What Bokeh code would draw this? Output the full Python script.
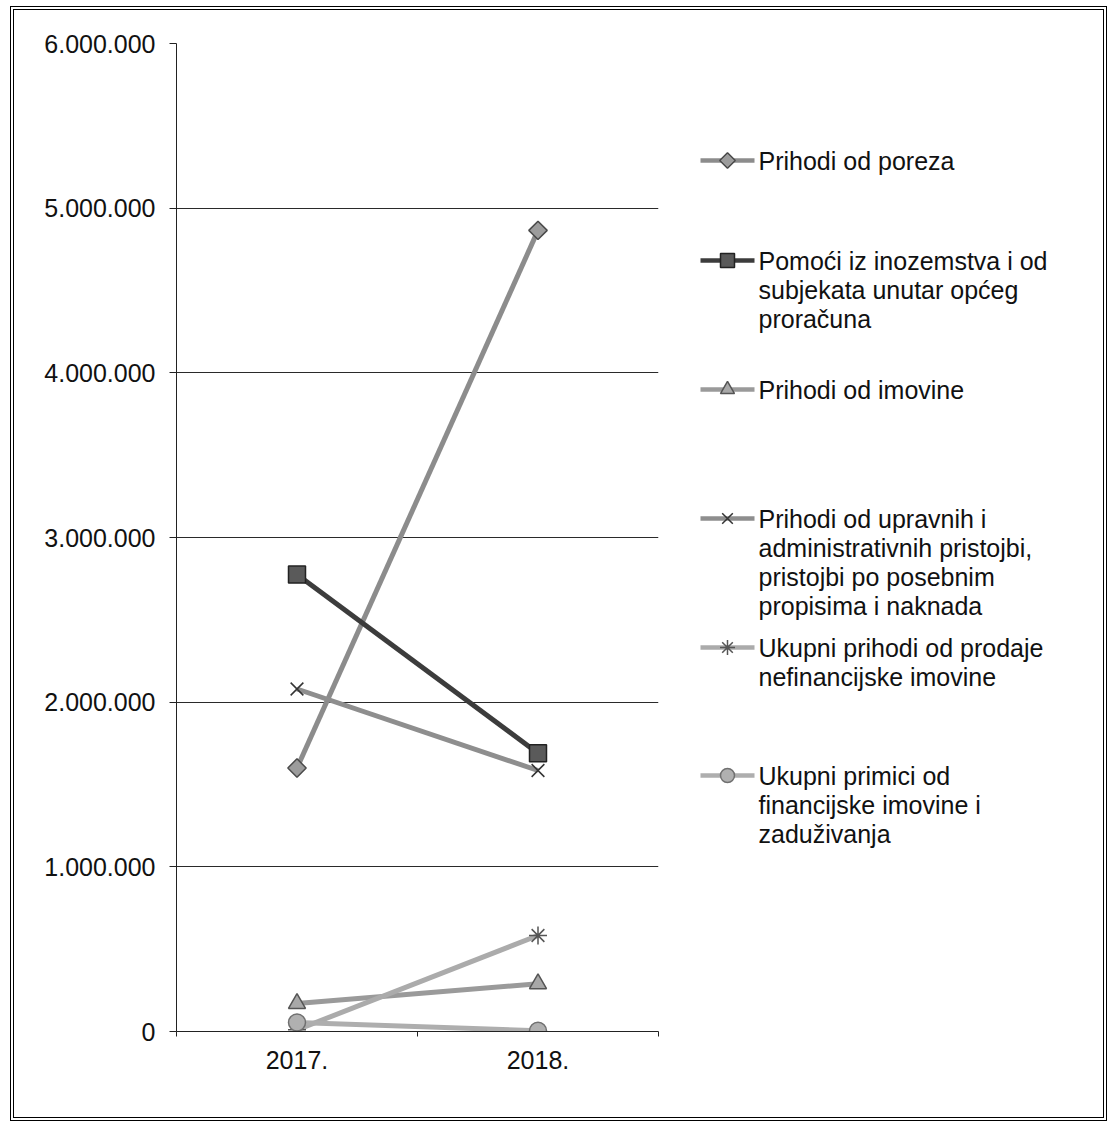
import math
from bokeh.plotting import figure
from bokeh.models import FixedTicker, Range1d
from bokeh.layouts import row
from bokeh.core.properties import value
from bokeh.embed import file_html
from bokeh.resources import INLINE

categories = ["2017.", "2018."]
prihodi_od_poreza = [1600000, 4865000]
pomoci = [2775000, 1690000]
prihodi_od_imovine = [170000, 290000]
upravne_pristojbe = [2080000, 1585000]
prodaja_nefin = [10000, 583000]
primici_fin = [55000, 5000]

y_ticks = [0, 1000000, 2000000, 3000000, 4000000, 5000000, 6000000]
y_tick_labels = ["0", "1.000.000", "2.000.000", "3.000.000", "4.000.000", "5.000.000", "6.000.000"]

labels = [
    "Prihodi od poreza",
    "Pomoći iz inozemstva i od\nsubjekata unutar općeg\nproračuna",
    "Prihodi od imovine",
    "Prihodi od upravnih i\nadministrativnih pristojbi,\npristojbi po posebnim\npropisima i naknada",
    "Ukupni prihodi od prodaje\nnefinancijske imovine",
    "Ukupni primici od\nfinancijske imovine i\nzaduživanja",
]

FONT = "Liberation Sans"
xs = [i + 0.5 for i in range(len(categories))]

BT, BB = 33, 86   # top / bottom borders shared by both panels
H = 1107

# ---- main chart ----
p = figure(width=648, height=H, output_backend="svg", toolbar_location=None,
           x_range=(0, len(categories)), y_range=(0, 6000000),
           min_border_left=162, min_border_right=4, min_border_top=BT, min_border_bottom=BB)
p.outline_line_color = None
p.xgrid.grid_line_color = None
p.ygrid.grid_line_color = "#2a2a2a"
p.ygrid.grid_line_width = 1.2

p.yaxis.ticker = FixedTicker(ticks=y_ticks)
p.yaxis.major_label_overrides = {t: l for t, l in zip(y_ticks, y_tick_labels)}
p.yaxis.minor_tick_line_color = None
p.yaxis.major_tick_in = 0
p.yaxis.major_tick_out = 7
p.yaxis.major_label_standoff = 14
p.yaxis.major_label_text_font = FONT
p.yaxis.major_label_text_font_size = "25px"
p.yaxis.major_label_text_color = "#111111"
p.yaxis.axis_line_color = "#222222"
p.yaxis.major_tick_line_color = "#222222"

p.xaxis.ticker = FixedTicker(ticks=xs, minor_ticks=list(range(len(categories) + 1)))
p.xaxis.major_label_overrides = {x: c for x, c in zip(xs, categories)}
p.xaxis.major_tick_line_color = None
p.xaxis.minor_tick_line_color = "#222222"
p.xaxis.minor_tick_in = 0
p.xaxis.minor_tick_out = 5
p.xaxis.major_label_standoff = 13
p.xaxis.major_label_text_font = FONT
p.xaxis.major_label_text_font_size = "25px"
p.xaxis.major_label_text_color = "#111111"
p.xaxis.axis_line_color = "#222222"

# (values, marker, angle, line colour, fill colour, marker outline, size, legend marker size)
series = [
    (prihodi_od_poreza, "square", math.pi / 4, "#8c8c8c", "#9c9c9c", "#4a4a4a", 13, 11),
    (pomoci, "square", 0, "#3c3c3c", "#5a5a5a", "#222222", 17, 14),
    (prihodi_od_imovine, "triangle", 0, "#9a9a9a", "#a8a8a8", "#555555", 17, 14),
    (upravne_pristojbe, "x", 0, "#8e8e8e", "#333333", "#333333", 18, 15),
    (prodaja_nefin, "asterisk", 0, "#ababab", "#555555", "#555555", 18, 15),
    (primici_fin, "circle", 0, "#aeaeae", "#b0b0b0", "#707070", 17, 14),
]

for vals, marker, ang, lc, fc, mlc, size, _ in series:
    p.line(xs, vals, line_color=lc, line_width=5)
    p.scatter(xs, vals, marker=marker, angle=ang, size=size, fill_color=fc,
              line_color=mlc, line_width=1.5)

# ---- legend panel (canvas pixel coordinates, y downwards) ----
LW = 441
lg = figure(width=LW, height=H, output_backend="svg", toolbar_location=None,
            x_range=Range1d(0, LW), y_range=Range1d(H - BB, BT),
            min_border_left=0, min_border_right=0,
            min_border_top=BT, min_border_bottom=BB)
lg.axis.visible = False
lg.grid.visible = False
lg.outline_line_color = None

entry_y = [150, 250, 379, 508, 637, 765]   # first-line centres of the entries (canvas px)
line_step = 29
sw_x0, sw_x1 = 38, 92
txt_x = 96

tx, ty, tt = [], [], []
for (vals, marker, ang, lc, fc, mlc, size, lsize), lab, y0 in zip(series, labels, entry_y):
    lg.line([sw_x0, sw_x1], [y0, y0], line_color=lc, line_width=4.5)
    lg.scatter([(sw_x0 + sw_x1) / 2], [y0], marker=marker, angle=ang, size=lsize,
               fill_color=fc, line_color=mlc, line_width=1.5)
    for j, part in enumerate(lab.split("\n")):
        tx.append(txt_x)
        ty.append(y0 + line_step * j)
        tt.append(part)

lg.text(tx, ty, text=tt, text_font=value(FONT), text_font_size="25px",
        text_color="#111111", text_baseline="middle", text_align="left")

layout = row(p, lg)
layout.styles = {"border": "4px double #000000", "margin": "6px 0px 0px 10px"}

open("out.html", "w").write(file_html(layout, INLINE))
